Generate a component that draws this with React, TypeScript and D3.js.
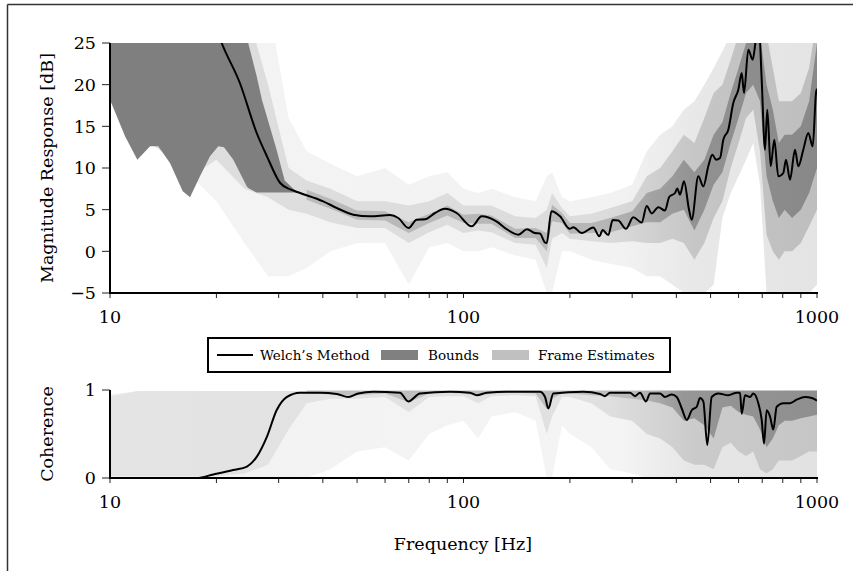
import React from "react";
import * as d3 from "d3";

// ---------- tick definitions ----------
const xTicks = [10, 20, 30, 40, 50, 60, 70, 80, 90, 100, 200, 300, 400, 500, 600, 700, 800, 900, 1000];
const xTickLabels = [10, 100, 1000];
const magTicks = [-5, 0, 5, 10, 15, 20, 25];
const cohTicks = [0, 1];

// ---------- Welch's method: magnitude response [dB] ----------
const welchMagFreq = [10, 14, 18, 20.7, 23.3, 26.0, 27.8, 30.3, 32.5, 34.5, 40.1, 43.8, 48.8, 54.4, 62.0, 65.4, 69.9, 73.7, 77.9, 83.1, 88.6, 95.6, 105.5, 112.6, 123.9, 132.6, 143.0, 151.2, 159.2, 164.6, 169.6, 171.9, 177.3, 187.5, 200.0, 204.4, 216.0, 232.9, 242.2, 247.6, 256.8, 264.3, 274.1, 288.2, 302.2, 319.2, 329.8, 340.8, 355.7, 371.5, 382.1, 396.6, 402.5, 409.6, 420.5, 434.5, 442.2, 461.6, 476.9, 492.6, 505.6, 518.0, 531.7, 543.2, 561.2, 579.7, 599.0, 612.4, 621.6, 639.3, 657.8, 672.1, 685, 697.5, 712.6, 723.4, 739.6, 757.2, 777.2, 802.9, 817.1, 838.7, 866.5, 885.3, 914.6, 945.0, 972.4, 993.6, 1000];
const welchMagDb = [60, 45, 33, 25.0, 20.2, 14.2, 11.4, 8.2, 7.4, 7.0, 6.0, 5.2, 4.4, 4.2, 4.35, 4.0, 2.8, 3.8, 3.85, 4.6, 5.1, 4.6, 3.0, 4.2, 3.6, 2.65, 2.0, 2.65, 2.2, 2.15, 1.1, 1.0, 4.8, 4.2, 2.7, 2.9, 2.2, 2.85, 1.8, 2.55, 1.95, 3.75, 3.7, 2.7, 4.1, 3.45, 5.45, 4.55, 5.3, 4.9, 6.55, 7.0, 7.55, 6.8, 8.4, 5.0, 3.8, 9.0, 7.8, 10.2, 11.6, 11.0, 11.2, 13.4, 14.6, 17.8, 19.4, 21.4, 19.0, 24.2, 23.0, 25.5, 27, 20.6, 12.2, 17.0, 10.2, 13.4, 9.0, 9.4, 11.0, 8.6, 12.2, 10.2, 12.2, 14.2, 12.6, 19.0, 19.5];

// ---------- Bounds (low-frequency region) ----------
const boundsFreq = [10, 11.03, 11.95, 12.98, 13.69, 14.78, 16.06, 16.84, 17.97, 19.18, 20.25, 21.01, 22.33, 24.36, 24.6, 26.0, 26.9, 29.6, 31.2, 33, 34.5];
const boundsLo = [18.2, 13.8, 11.0, 12.6, 12.6, 10.6, 7.2, 6.5, 9.0, 11.4, 12.6, 12.5, 11.0, 7.8, 7.6, 7.05, 7.05, 7.05, 7.05, 7.05, 7.0];
const boundsHi = [40, 40, 40, 40, 40, 40, 40, 40, 40, 40, 40, 40, 40, 27, 25, 21, 18.2, 12.2, 8.5, 7.5, 7.0];

// ---------- Frame estimates: spread of the frames ----------
const bandFreq = [10, 12, 14, 17, 20, 24, 28, 32, 36, 42, 50, 60, 70, 80, 90, 100, 110, 120, 140, 160, 172, 178, 190, 200, 230, 260, 300, 330, 360, 390, 420, 450, 480, 510, 540, 570, 600, 630, 660, 690, 720, 750, 780, 810, 850, 900, 950, 1000];

const magOuterLo = [18, 14, 12, 9, 6, 1, -3, -3, -2, 0, 1, 1, -4, 0.5, 1, 0, 0, 0.5, -0.5, -1, -5, -5, 0, 0, -1, -1.5, -2, -3, -3, -4, -5, -5, -5, -4, 4, 7, 9, 11, 13, 8, -5, -5, -5, -5, -5, -5, -5, -4];
const magOuterHi = [30, 30, 30, 30, 30, 30, 30, 16, 12, 10.5, 9, 10, 8, 9, 9.5, 7.5, 7, 7.5, 6.5, 6, 9, 9.5, 6.5, 6, 6.5, 7, 8, 12, 14, 15, 17, 18, 20, 22, 24, 26, 30, 30, 30, 30, 30, 30, 30, 30, 30, 30, 30, 30];
const magMidLo = [18, 14, 12, 9, 11, 7.5, 6.5, 5, 4.5, 3.5, 2.8, 2.8, 1.0, 2.3, 3.2, 2.2, 2.5, 2.3, 1.0, 0.8, -2, 1.5, 2.2, 1.5, 1.2, 1.0, 1.2, 1, 1, 1.5, 1, -1, 1, 4, 6, 10, 13, 16, 17, 12, 2, 0, -1, 0, 0, 1, 3, 5];
const magMidHi = [30, 30, 30, 30, 30, 30, 20, 10, 8.5, 7.5, 6, 6, 5.5, 6, 7, 5.5, 5.5, 5.5, 4.2, 4, 5, 7, 5.2, 4.2, 4.5, 5.2, 6, 9, 10, 12, 14, 13, 16, 19, 20, 23, 26, 28, 28, 28, 26, 22, 18, 18, 18, 19, 22, 28];
const magInnerLo = [null, null, null, null, null, null, null, null, 6.2, 5.1, 3.8, 3.7, 2.2, 3.4, 4.3, 3.4, 3.3, 3.3, 1.6, 1.6, 0, 3.6, 3.4, 2.1, 2.2, 2.3, 3.0, 3.5, 3.5, 4.5, 5, 2.5, 5, 8, 9.5, 13, 16, 19, 20, 18, 9, 6, 4, 5, 4, 5, 7, 10];
const magInnerHi = [null, null, null, null, null, null, null, null, 7.4, 6.3, 4.9, 4.8, 3.5, 4.5, 5.5, 4.4, 4.5, 4.3, 2.7, 2.8, 2.2, 5.6, 4.6, 3.4, 3.4, 4.0, 4.8, 7, 7.5, 9, 11, 9.5, 11, 14, 15.5, 19, 22, 25, 26, 26, 20, 17, 13, 14, 14, 15, 18, 25];

// ---------- Welch's method: coherence ----------
const welchCohFreq = [10, 17.6, 19.6, 22.3, 24.4, 26.0, 27.8, 29.6, 31.6, 34.5, 39.3, 43.8, 47.2, 50.4, 55.5, 66.1, 69.8, 75.3, 91.6, 104.3, 109.0, 116.3, 132.5, 164.6, 170.1, 173.8, 179.5, 218.3, 243.3, 251.3, 259.6, 295.8, 305.6, 315.8, 328.3, 337.0, 359.7, 371.5, 388.2, 401.1, 414.4, 428.1, 442.2, 456.9, 466.7, 476.9, 489.4, 503.6, 525.8, 561.2, 592.7, 605.7, 612.4, 625.7, 646.4, 660.5, 682.3, 697.5, 708.1, 720.6, 736.2, 752.3, 769.1, 802.9, 838.7, 876.2, 925.0, 966.1, 1000];
const welchCoh = [0, 0, 0.04, 0.09, 0.13, 0.24, 0.47, 0.77, 0.92, 0.97, 0.97, 0.955, 0.92, 0.96, 0.98, 0.97, 0.87, 0.96, 0.98, 0.97, 0.94, 0.97, 0.98, 0.98, 0.92, 0.79, 0.96, 0.98, 0.955, 0.93, 0.97, 0.97, 0.93, 0.97, 0.87, 0.96, 0.96, 0.92, 0.95, 0.92, 0.79, 0.66, 0.77, 0.81, 0.91, 0.87, 0.375, 0.92, 0.96, 0.94, 0.97, 0.97, 0.73, 0.94, 0.92, 0.96, 0.85, 0.66, 0.39, 0.77, 0.70, 0.55, 0.81, 0.85, 0.85, 0.89, 0.92, 0.91, 0.88];

const cohOuterLo = [0, 0, 0, 0, 0, 0, 0, 0, 0, 0.1, 0.3, 0.35, 0.2, 0.5, 0.6, 0.65, 0.45, 0.7, 0.75, 0.65, 0, 0, 0.6, 0.5, 0.35, 0.1, 0.05, 0, 0, 0, 0, 0, 0, 0, 0, 0, 0, 0, 0, 0, 0, 0, 0, 0, 0, 0, 0, 0];
const cohOuterHi = [0.95, 0.99, 0.99, 0.99, 0.99, 0.99, 0.99, 0.99, 0.99, 0.99, 0.99, 0.99, 0.99, 0.99, 0.99, 0.99, 0.99, 0.99, 0.99, 0.99, 0.99, 0.99, 0.99, 0.99, 0.99, 0.99, 0.99, 0.99, 0.99, 0.99, 0.99, 0.99, 0.99, 0.99, 0.99, 0.99, 0.99, 0.99, 0.99, 0.99, 0.99, 0.99, 0.99, 0.99, 0.99, 0.99, 0.99, 0.99];
const cohMidLo = [0.02, 0.02, 0.02, 0.02, 0.02, 0.05, 0.15, 0.55, 0.85, 0.9, 0.9, 0.92, 0.75, 0.92, 0.93, 0.93, 0.85, 0.93, 0.94, 0.93, 0.5, 0.7, 0.92, 0.92, 0.85, 0.7, 0.65, 0.5, 0.45, 0.35, 0.2, 0.15, 0.15, 0.1, 0.35, 0.4, 0.3, 0.25, 0.3, 0.1, 0.05, 0.1, 0.2, 0.2, 0.2, 0.25, 0.3, 0.3];
const cohMidHi = [0.93, 0.99, 0.99, 0.99, 0.99, 0.99, 0.99, 0.99, 0.99, 0.99, 0.99, 0.99, 0.99, 0.99, 0.99, 0.99, 0.99, 0.99, 0.99, 0.99, 0.99, 0.99, 0.99, 0.99, 0.99, 0.99, 0.99, 0.99, 0.99, 0.99, 0.99, 0.99, 0.99, 0.99, 0.99, 0.99, 0.99, 0.99, 0.99, 0.99, 0.99, 0.99, 0.99, 0.99, 0.99, 0.99, 0.99, 0.99];
const cohInnerLo = [null, null, null, null, null, null, null, null, 0.96, 0.95, 0.94, 0.96, 0.86, 0.96, 0.97, 0.96, 0.93, 0.96, 0.97, 0.96, 0.78, 0.9, 0.96, 0.96, 0.94, 0.93, 0.9, 0.88, 0.85, 0.8, 0.65, 0.68, 0.6, 0.45, 0.8, 0.82, 0.75, 0.72, 0.7, 0.55, 0.35, 0.45, 0.6, 0.65, 0.65, 0.68, 0.7, 0.72];
const cohInnerHi = [null, null, null, null, null, null, null, null, 0.995, 0.995, 0.995, 0.995, 0.995, 0.995, 0.995, 0.995, 0.995, 0.995, 0.995, 0.995, 0.995, 0.995, 0.995, 0.995, 0.995, 0.995, 0.995, 0.995, 0.995, 0.995, 0.995, 0.995, 0.995, 0.995, 0.995, 0.995, 0.995, 0.995, 0.995, 0.995, 0.995, 0.995, 0.995, 0.995, 0.995, 0.995, 0.995, 0.995];

const legendItems = ["Welch\u2019s Method", "Bounds", "Frame Estimates"];

const FONT = "'DejaVu Serif', serif";

export default function App() {
  const x = d3.scaleLog().domain([10, 1000]).range([110, 817]);
  const yMag = d3.scaleLinear().domain([-5, 25]).range([293, 43]);
  const yCoh = d3.scaleLinear().domain([0, 1]).range([478, 390]);

  const band = (freqs: number[], lo: (number | null)[], hi: (number | null)[], y: any) =>
    d3
      .area<number>()
      .defined((i) => lo[i] != null && hi[i] != null)
      .x((i) => x(freqs[i]))
      .y0((i) => y(lo[i] as number))
      .y1((i) => y(hi[i] as number))(d3.range(freqs.length)) as string;

  const line = (freqs: number[], vals: number[], y: any) =>
    d3
      .line<number>()
      .x((i) => x(freqs[i]))
      .y((i) => y(vals[i]))
      .curve(d3.curveMonotoneX)(d3.range(freqs.length)) as string;

  const offs = (f: number) => (x(f) - 110) / (817 - 110);

  const grad = (id: string, stops: [number, string][]) => (
    <linearGradient id={id} gradientUnits="userSpaceOnUse" x1={110} x2={817} y1={0} y2={0}>
      {stops.map(([f, c], i) => (
        <stop key={i} offset={offs(f)} stopColor={c} />
      ))}
    </linearGradient>
  );

  const xAxis = (y0: number) => (
    <g>
      {xTicks.map((t) => (
        <line key={t} x1={x(t)} x2={x(t)} y1={y0} y2={y0 + 5} stroke="#222" strokeWidth={1} />
      ))}
      <line x1={109} x2={818} y1={y0} y2={y0} stroke="#000" strokeWidth={2} />
      {xTickLabels.map((t) => (
        <text key={t} x={x(t)} y={y0 + 30} textAnchor="middle" fontSize={17.5} fontFamily={FONT} fill="#000">
          {t}
        </text>
      ))}
    </g>
  );

  return (
    <svg width={853} height={571} style={{ position: "absolute", left: 0, top: 0, background: "#fff" }}>
      <defs>
        <clipPath id="clipMag">
          <rect x={110} y={43} width={707} height={250} />
        </clipPath>
        <clipPath id="clipCoh">
          <rect x={110} y={386} width={707} height={92} />
        </clipPath>
        {grad("gMagOuter", [[10, "#f4f4f4"], [280, "#f2f2f2"], [450, "#e8e8e8"], [1000, "#e4e4e4"]])}
        {grad("gMagMid", [[10, "#dedede"], [250, "#dcdcdc"], [450, "#c6c6c6"], [1000, "#bebebe"]])}
        {grad("gMagInner", [[10, "#bdbdbd"], [250, "#b6b6b6"], [450, "#929292"], [1000, "#888888"]])}
        {grad("gCohOuter", [[10, "#f2f2f2"], [280, "#f4f4f4"], [450, "#e6e6e6"], [1000, "#e2e2e2"]])}
        {grad("gCohMid", [[10, "#e4e4e4"], [250, "#e0e0e0"], [450, "#cbcbcb"], [1000, "#c6c6c6"]])}
        {grad("gCohInner", [[10, "#c4c4c4"], [300, "#bcbcbc"], [420, "#969696"], [1000, "#8f8f8f"]])}
      </defs>

      {/* outer frame */}
      <line x1={7.5} x2={7.5} y1={4.5} y2={571} stroke="#333" strokeWidth={1.5} />
      <line x1={7.5} x2={853} y1={4.5} y2={4.5} stroke="#333" strokeWidth={1.5} />

      {/* ---------- magnitude panel ---------- */}
      <g clipPath="url(#clipMag)">
        <path d={band(bandFreq, magOuterLo, magOuterHi, yMag)} fill="url(#gMagOuter)" />
        <path d={band(bandFreq, magMidLo, magMidHi, yMag)} fill="url(#gMagMid)" />
        <path d={band(bandFreq, magInnerLo, magInnerHi, yMag)} fill="url(#gMagInner)" />
        <path d={band(boundsFreq, boundsLo, boundsHi, yMag)} fill="#7f7f7f" />
        <path d={line(welchMagFreq, welchMagDb, yMag)} fill="none" stroke="#000" strokeWidth={2} strokeLinejoin="round" />
      </g>
      {magTicks.map((t) => (
        <g key={t}>
          <line x1={102} x2={110} y1={yMag(t)} y2={yMag(t)} stroke="#222" strokeWidth={1} />
          <text x={96} y={yMag(t)} dy="0.36em" textAnchor="end" fontSize={17.5} fontFamily={FONT} fill="#000">
            {t < 0 ? "\u2212" + Math.abs(t) : t}
          </text>
        </g>
      ))}
      <line x1={110} x2={110} y1={43} y2={294} stroke="#000" strokeWidth={2} />
      {xAxis(293)}
      <text transform="translate(53,168) rotate(-90)" textAnchor="middle" fontSize={17.5} fontFamily={FONT} fill="#000">
        Magnitude Response [dB]
      </text>

      {/* ---------- legend ---------- */}
      <g>
        <rect x={208} y={338} width={462} height={34} fill="#fff" stroke="#000" strokeWidth={2} />
        <line x1={217} x2={253} y1={355} y2={355} stroke="#000" strokeWidth={2} />
        <text x={260} y={360} fontSize={13.5} fontFamily={FONT} fill="#000">{legendItems[0]}</text>
        <rect x={381} y={350} width={37} height={10} fill="#808080" />
        <text x={428} y={360} fontSize={13.5} fontFamily={FONT} fill="#000">{legendItems[1]}</text>
        <rect x={492} y={350} width={37} height={10} fill="#c0c0c0" />
        <text x={538} y={360} fontSize={13.5} fontFamily={FONT} fill="#000">{legendItems[2]}</text>
      </g>

      {/* ---------- coherence panel ---------- */}
      <g clipPath="url(#clipCoh)">
        <path d={band(bandFreq, cohOuterLo, cohOuterHi, yCoh)} fill="url(#gCohOuter)" />
        <path d={band(bandFreq, cohMidLo, cohMidHi, yCoh)} fill="url(#gCohMid)" />
        <path d={band(bandFreq, cohInnerLo, cohInnerHi, yCoh)} fill="url(#gCohInner)" />
        <path d={line(welchCohFreq, welchCoh, yCoh)} fill="none" stroke="#000" strokeWidth={2} strokeLinejoin="round" />
      </g>
      {cohTicks.map((t) => (
        <g key={t}>
          <line x1={102} x2={110} y1={yCoh(t)} y2={yCoh(t)} stroke="#222" strokeWidth={1} />
          <text x={96} y={yCoh(t)} dy="0.36em" textAnchor="end" fontSize={17.5} fontFamily={FONT} fill="#000">
            {t}
          </text>
        </g>
      ))}
      <line x1={110} x2={110} y1={390} y2={479} stroke="#000" strokeWidth={2} />
      {xAxis(478)}
      <text transform="translate(53,434) rotate(-90)" textAnchor="middle" fontSize={17.5} fontFamily={FONT} fill="#000">
        Coherence
      </text>
      <text x={463} y={550} textAnchor="middle" fontSize={17.5} fontFamily={FONT} fill="#000">
        Frequency [Hz]
      </text>
    </svg>
  );
}
